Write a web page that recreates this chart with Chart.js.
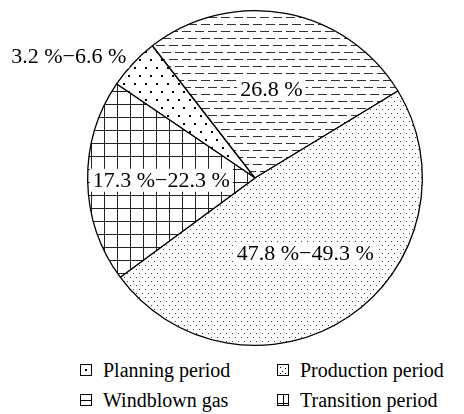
<!DOCTYPE html>
<html>
<head>
<meta charset="utf-8">
<script src="https://cdn.jsdelivr.net/npm/chart.js@4"></script>
<style>
  body { margin: 0; background: #fff; }
  #wrap { position: relative; width: 464px; height: 414px; font-family: 'Liberation Serif', 'Times New Roman', Times, 'DejaVu Serif', serif; }
  #chart { position: absolute; left: 0; top: 0; }
  .item { position: absolute; height: 24px; display: flex; align-items: center; font-size: 20px; color: #000; white-space: nowrap; }
  .item canvas { margin-right: 10px; }
</style>
</head>
<body>
<div id="wrap">
  <canvas id="chart" width="464" height="352"></canvas>
  <div id="legend"></div>
</div>
<script>
// slice order goes clockwise, starting at the planning slice
const categories = ['Planning period', 'Windblown gas', 'Production period', 'Transition period'];
const shares = [5.0, 26.8, 48.6, 19.6];
const sliceLabels = ['3.2 %\u22126.6 %', '26.8 %', '47.8 %\u221249.3 %', '17.3 %\u221222.3 %'];
const legendOrder = [0, 2, 1, 3];

// where each slice label sits: fraction of radius, plus angle shift (deg)
const labelRadius = [1.33, 0.54, 0.54, 0.56];
const labelShift = [-10, 0, 0, 0];

const serif = "'Liberation Serif', 'Times New Roman', Times, 'DejaVu Serif', serif";
const ctx = document.getElementById('chart').getContext('2d');

function makePattern(w, h, draw) {
    const c = document.createElement('canvas');
    c.width = w;
    c.height = h;
    const g = c.getContext('2d');
    g.fillStyle = '#fff';
    g.fillRect(0, 0, w, h);
    draw(g);
    return ctx.createPattern(c, 'repeat');
}

const patterns = [
    // sparse dots
    makePattern(11, 16, g => {
        g.fillStyle = '#000';
        g.fillRect(2, 3, 2, 2);
        g.fillRect(7, 11, 2, 2);
    }),
    // dashes
    makePattern(13, 14, g => {
        g.fillStyle = '#333';
        g.fillRect(0, 3, 9, 1);
        g.fillRect(6, 10, 7, 1);
        g.fillRect(0, 10, 2, 1);
    }),
    // fine dots
    makePattern(6, 8, g => {
        g.fillStyle = '#444';
        g.fillRect(1, 1, 1, 1);
        g.fillRect(4, 5, 1, 1);
    }),
    // grid
    makePattern(13, 13, g => {
        g.fillStyle = '#222';
        g.fillRect(0, 0, 13, 1);
        g.fillRect(0, 0, 1, 13);
    })
];

const sliceText = {
    id: 'sliceText',
    afterDatasetsDraw(chart) {
        const c = chart.ctx;
        const arcs = chart.getDatasetMeta(0).data;
        c.save();
        c.font = '22px ' + serif;
        c.textAlign = 'center';
        c.textBaseline = 'middle';
        arcs.forEach((arc, i) => {
            const p = arc.getProps(['x', 'y', 'startAngle', 'endAngle', 'outerRadius'], true);
            const mid = (p.startAngle + p.endAngle) / 2 + labelShift[i] * Math.PI / 180;
            const x = p.x + Math.cos(mid) * p.outerRadius * labelRadius[i];
            const y = p.y + Math.sin(mid) * p.outerRadius * labelRadius[i];
            const w = c.measureText(sliceLabels[i]).width;
            c.fillStyle = '#fff';
            c.fillRect(x - w / 2 - 3, y - 11, w + 6, 23);
            c.fillStyle = '#000';
            c.fillText(sliceLabels[i], x, y + 1);
        });
        c.restore();
    }
};

new Chart(ctx, {
    type: 'pie',
    data: {
        labels: categories,
        datasets: [{
            data: shares,
            backgroundColor: patterns,
            borderColor: '#000',
            borderWidth: 1.3
        }]
    },
    options: {
        responsive: false,
        animation: false,
        rotation: -55.8,
        events: [],
        layout: { padding: { left: 87, right: 41, top: 10, bottom: 6 } },
        plugins: {
            legend: { display: false },
            tooltip: { enabled: false }
        }
    },
    plugins: [sliceText]
});

// legend icons
function drawIcon(i) {
    const c = document.createElement('canvas');
    c.width = 14;
    c.height = 14;
    const g = c.getContext('2d');
    g.strokeStyle = '#000';
    g.fillStyle = '#000';
    g.lineWidth = 1;
    g.strokeRect(1.5, 1.5, 11, 11);
    if (i === 0) {
        g.fillRect(6, 6, 2, 2);
    } else if (i === 1) {
        g.fillRect(2, 7, 10, 1);
    } else if (i === 2) {
        g.fillRect(4, 4, 1, 1);
        g.fillRect(9, 5, 1, 1);
        g.fillRect(6, 8, 1, 1);
        g.fillRect(4, 10, 1, 1);
        g.fillRect(9, 10, 1, 1);
    } else {
        g.fillRect(7, 2, 1, 10);
        g.fillRect(2, 10, 10, 1);
    }
    return c;
}

const legendCols = [79, 276];
const legendRows = [358, 388];
const legend = document.getElementById('legend');
legendOrder.forEach((idx, k) => {
    const item = document.createElement('div');
    item.className = 'item';
    item.style.left = legendCols[k % 2] + 'px';
    item.style.top = legendRows[Math.floor(k / 2)] + 'px';
    item.appendChild(drawIcon(idx));
    const span = document.createElement('span');
    span.textContent = categories[idx];
    item.appendChild(span);
    legend.appendChild(item);
});
</script>
</body>
</html>
